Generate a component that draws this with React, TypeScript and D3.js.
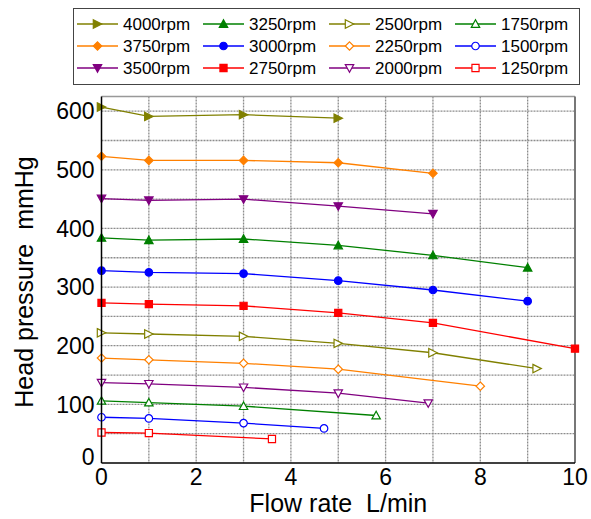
import React, { useRef, useEffect } from "react";
import * as d3 from "d3";

// rpm series
const speeds = ["4000rpm", "3750rpm", "3500rpm", "3250rpm", "3000rpm", "2750rpm", "2500rpm", "2250rpm", "2000rpm", "1750rpm", "1500rpm", "1250rpm"];

const flow4000 = [0, 1, 3, 5];
const head4000 = [607, 591, 594, 588];
const flow3750 = [0, 1, 3, 5, 7];
const head3750 = [523, 516, 516, 512, 494];
const flow3500 = [0, 1, 3, 5, 7];
const head3500 = [451, 448, 450, 438, 425];
const flow3250 = [0, 1, 3, 5, 7, 9];
const head3250 = [384, 380, 382, 371, 354, 333];
const flow3000 = [0, 1, 3, 5, 7, 9];
const head3000 = [328, 325, 323, 311, 295, 276];
const flow2750 = [0, 1, 3, 5, 7, 10];
const head2750 = [273, 271, 268, 256, 239, 195];
const flow2500 = [0, 1, 3, 5, 7, 9.2];
const head2500 = [222, 220, 216, 204, 188, 161];
const flow2250 = [0, 1, 3, 5, 8];
const head2250 = [179, 176, 170, 160, 131];
const flow2000 = [0, 1, 3, 5, 6.9];
const head2000 = [137, 135, 129, 119, 102];
const flow1750 = [0, 1, 3, 5.8];
const head1750 = [106, 103, 97, 81];
const flow1500 = [0, 1, 3, 4.7];
const head1500 = [78, 76, 68, 59];
const flow1250 = [0, 1, 3.6];
const head1250 = [52, 51, 41];

const flows = [flow4000, flow3750, flow3500, flow3250, flow3000, flow2750, flow2500, flow2250, flow2000, flow1750, flow1500, flow1250];
const heads = [head4000, head3750, head3500, head3250, head3000, head2750, head2500, head2250, head2000, head1750, head1500, head1250];

const colors = ["#808000", "#ff8000", "#800080", "#008000", "#0000ff", "#ff0000", "#808000", "#ff8000", "#800080", "#008000", "#0000ff", "#ff0000"];
const shapes = ["right", "diamond", "down", "up", "circle", "square", "right", "diamond", "down", "up", "circle", "square"];
const filled = [true, true, true, true, true, true, false, false, false, false, false, false];

const xTicks = [0, 2, 4, 6, 8, 10];
const yTicks = [0, 100, 200, 300, 400, 500, 600];

const FONT = "Liberation Sans, Arial, sans-serif";

// path of one marker, centered on 0,0
function markerPath(shape: string, r: number) {
  switch (shape) {
    case "right":
      return `M${-r},${-r}L${r},0L${-r},${r}Z`;
    case "down":
      return `M${-r},${-r * 0.8}L${r},${-r * 0.8}L0,${r}Z`;
    case "up":
      return `M${-r},${r * 0.8}L${r},${r * 0.8}L0,${-r}Z`;
    case "diamond":
      return `M0,${-r}L${r},0L0,${r}L${-r},0Z`;
    case "square":
      return `M${-r * 0.85},${-r * 0.85}h${r * 1.7}v${r * 1.7}h${-r * 1.7}Z`;
    default:
      return d3.symbol(d3.symbolCircle, Math.PI * r * r * 0.8)() as string;
  }
}

const App = () => {
  const svgRef = useRef<SVGSVGElement>(null);

  useEffect(() => {
    const svg = d3.select(svgRef.current);
    svg.selectAll("*").remove();

    const margin = { top: 96.5, bottom: 56, right: 16, left: 101.5 };
    const width = 591 - margin.left - margin.right;
    const height = 519 - margin.top - margin.bottom;

    const x = d3.scaleLinear().domain([0, 10]).range([0, width]);
    const y = d3.scaleLinear().domain([0, 625]).range([height, 0]);

    const g = svg.append("g").attr("transform", `translate(${margin.left},${margin.top})`);

    // grid
    g.append("g")
      .selectAll("line")
      .data(d3.range(1, 10))
      .join("line")
      .attr("x1", (d) => x(d))
      .attr("x2", (d) => x(d))
      .attr("y1", 0)
      .attr("y2", height)
      .attr("stroke", "#8c8c8c")
      .attr("stroke-width", 1.3)
      .attr("stroke-dasharray", "2,1");
    g.append("g")
      .selectAll("line")
      .data(d3.range(50, 625, 50))
      .join("line")
      .attr("x1", 0)
      .attr("x2", width)
      .attr("y1", (d) => y(d))
      .attr("y2", (d) => y(d))
      .attr("stroke", "#8c8c8c")
      .attr("stroke-width", 1.3)
      .attr("stroke-dasharray", "2,1");

    // frame
    g.append("line").attr("x1", 0).attr("x2", width).attr("y1", 0).attr("y2", 0).attr("stroke", "#999").attr("stroke-width", 1.5);
    g.append("line").attr("x1", width).attr("x2", width).attr("y1", 0).attr("y2", height).attr("stroke", "#777").attr("stroke-width", 2);

    // series
    const line = d3
      .line<[number, number]>()
      .x((d) => x(d[0]))
      .y((d) => y(d[1]));

    flows.forEach((fl, i) => {
      const pts = fl.map((f, j) => [f, heads[i][j]] as [number, number]);
      g.append("path")
        .datum(pts)
        .attr("fill", "none")
        .attr("stroke", colors[i])
        .attr("stroke-width", 1.3)
        .attr("d", line);
      g.append("g")
        .selectAll("path")
        .data(pts)
        .join("path")
        .attr("transform", (d) => `translate(${x(d[0])},${y(d[1])})`)
        .attr("d", markerPath(shapes[i], 4.2))
        .attr("fill", filled[i] ? colors[i] : "white")
        .attr("stroke", colors[i])
        .attr("stroke-width", 1.2);
    });

    // axes lines
    g.append("line").attr("x1", 0).attr("x2", 0).attr("y1", 0).attr("y2", height).attr("stroke", "black").attr("stroke-width", 1.5);
    g.append("line").attr("x1", 0).attr("x2", width).attr("y1", height).attr("y2", height).attr("stroke", "black").attr("stroke-width", 1.5);

    // tick labels
    g.append("g")
      .selectAll("text")
      .data(xTicks)
      .join("text")
      .attr("x", (d) => x(d))
      .attr("y", height + 22)
      .attr("text-anchor", "middle")
      .style("font-family", FONT)
      .style("font-size", "23px")
      .text((d) => d);
    g.append("g")
      .selectAll("text")
      .data(yTicks)
      .join("text")
      .attr("x", -7)
      .attr("y", (d) => (d === 0 ? y(d) - 6 : y(d)))
      .attr("dy", "0.36em")
      .attr("text-anchor", "end")
      .style("font-family", FONT)
      .style("font-size", "23px")
      .text((d) => d);

    // axis titles
    svg
      .append("text")
      .attr("x", margin.left + width / 2)
      .attr("y", 512)
      .attr("text-anchor", "middle")
      .style("font-family", FONT)
      .style("font-size", "25px")
      .style("white-space", "pre")
      .text("Flow rate  L/min");
    svg
      .append("text")
      .attr("transform", "translate(33,282) rotate(-90)")
      .attr("text-anchor", "middle")
      .style("font-family", FONT)
      .style("font-size", "25px")
      .style("white-space", "pre")
      .text("Head pressure  mmHg");

    // legend
    const legend = svg.append("g");
    legend
      .append("rect")
      .attr("x", 73.5)
      .attr("y", 8.5)
      .attr("width", 506)
      .attr("height", 76)
      .attr("fill", "white")
      .attr("stroke", "#444")
      .attr("stroke-width", 1);
    speeds.forEach((s, i) => {
      const col = Math.floor(i / 3);
      const row = i % 3;
      const lx = 77 + col * 126;
      const ly = 24 + row * 22;
      legend.append("line").attr("x1", lx).attr("x2", lx + 41).attr("y1", ly).attr("y2", ly).attr("stroke", colors[i]).attr("stroke-width", 1.3);
      legend
        .append("path")
        .attr("transform", `translate(${lx + 20.5},${ly})`)
        .attr("d", markerPath(shapes[i], 4.2))
        .attr("fill", filled[i] ? colors[i] : "white")
        .attr("stroke", colors[i])
        .attr("stroke-width", 1.2);
      legend
        .append("text")
        .attr("x", lx + 46)
        .attr("y", ly)
        .attr("dy", "0.36em")
        .style("font-family", FONT)
        .style("font-size", "17px")
        .text(s);
    });
  }, []);

  return (
    <svg
      ref={svgRef}
      width={591}
      height={519}
      style={{ position: "absolute", left: 0, top: 0, background: "white" }}
    ></svg>
  );
};

export default App;
